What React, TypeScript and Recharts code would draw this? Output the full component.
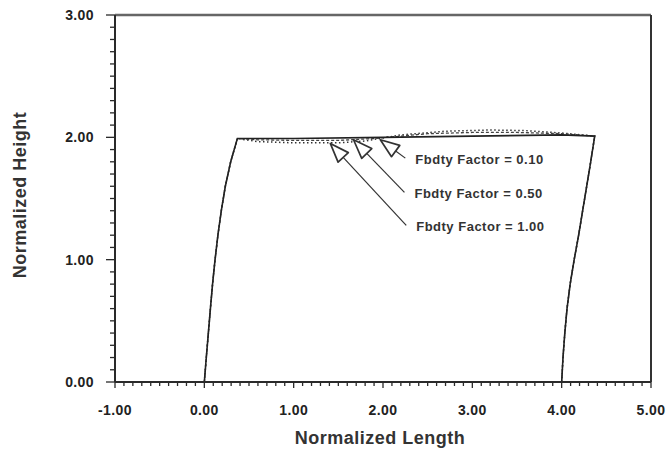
import React from "react";
import { LineChart, Line, XAxis, YAxis, ReferenceLine } from "recharts";

// Deformed outline of the block for three Fbdty factors (x = normalized length, y = normalized height)
// Left edge (bottom to top), then the top edge, then the right edge (top to bottom).
const leftEdge = [
  { x: 0.0, y: 0.0 }, { x: 0.022, y: 0.2 }, { x: 0.045, y: 0.4 }, { x: 0.068, y: 0.6 },
  { x: 0.092, y: 0.8 }, { x: 0.12, y: 1.0 }, { x: 0.152, y: 1.2 }, { x: 0.19, y: 1.4 },
  { x: 0.235, y: 1.6 }, { x: 0.295, y: 1.8 }, { x: 0.37, y: 1.99 },
];
const rightEdge = [
  { x: 4.37, y: 2.01 }, { x: 4.325, y: 1.8 }, { x: 4.28, y: 1.6 }, { x: 4.235, y: 1.4 },
  { x: 4.19, y: 1.2 }, { x: 4.14, y: 1.0 }, { x: 4.095, y: 0.8 }, { x: 4.06, y: 0.6 },
  { x: 4.035, y: 0.4 }, { x: 4.015, y: 0.2 }, { x: 4.0, y: 0.0 },
];
const top010 = [
  { x: 1.0, y: 1.99 }, { x: 2.0, y: 2.0 }, { x: 3.0, y: 2.01 }, { x: 4.0, y: 2.02 },
];
const top050 = [
  { x: 0.6, y: 1.98 }, { x: 1.0, y: 1.975 }, { x: 1.5, y: 1.975 }, { x: 1.9, y: 1.99 },
  { x: 2.5, y: 2.03 }, { x: 3.0, y: 2.04 }, { x: 3.5, y: 2.04 }, { x: 4.0, y: 2.03 },
];
const top100 = [
  { x: 0.6, y: 1.965 }, { x: 1.0, y: 1.955 }, { x: 1.5, y: 1.955 }, { x: 1.8, y: 1.97 },
  { x: 2.2, y: 2.02 }, { x: 2.7, y: 2.05 }, { x: 3.2, y: 2.06 }, { x: 3.6, y: 2.055 },
  { x: 4.0, y: 2.035 },
];
const factor010 = [...leftEdge, ...top010, ...rightEdge];
const factor050 = [...leftEdge, ...top050, ...rightEdge];
const factor100 = [...leftEdge, ...top100, ...rightEdge];

// Callouts: arrow tip on the top edge, tail at the label
const callouts = [
  { label: "Fbdty Factor = 0.10", tip: { x: 1.97, y: 1.98 }, tail: { x: 2.25, y: 1.83 } },
  { label: "Fbdty Factor = 0.50", tip: { x: 1.67, y: 1.98 }, tail: { x: 2.24, y: 1.55 } },
  { label: "Fbdty Factor = 1.00", tip: { x: 1.41, y: 1.95 }, tail: { x: 2.26, y: 1.28 } },
];

const xMajorTicks = [-1, 0, 1, 2, 3, 4, 5];
const yMajorTicks = [0, 1, 2, 3];

const subdivide = (majors: number[], parts: number) => {
  const out: number[] = [];
  for (let i = 0; i < majors.length - 1; i++) {
    for (let k = 0; k < parts; k++) {
      out.push(+(majors[i] + ((majors[i + 1] - majors[i]) * k) / parts).toFixed(3));
    }
  }
  out.push(majors[majors.length - 1]);
  return out;
};
const xTicks = subdivide(xMajorTicks, 10);
const yTicks = subdivide(yMajorTicks, 10);

const FONT = "'Liberation Sans', Arial, Helvetica, sans-serif";
const AXIS = "#2a2a2a";
const isMajor = (v: number) => Math.abs(v - Math.round(v)) < 1e-6;

const XTick = (props: any) => {
  const { x, y, payload } = props;
  const v = payload.value;
  const major = isMajor(v);
  return (
    <g>
      <line x1={x} x2={x} y1={y} y2={y + (major ? 6 : 4)} stroke={AXIS} strokeWidth={1.3} />
      {major && (
        <text x={x} y={y + 33} textAnchor="middle" fontFamily={FONT} fontWeight="bold"
          fontSize={14} letterSpacing={0.4} fill="#222">
          {v.toFixed(2)}
        </text>
      )}
    </g>
  );
};

const YTick = (props: any) => {
  const { x, y, payload } = props;
  const v = payload.value;
  const major = isMajor(v);
  return (
    <g>
      <line x1={x - (major ? 9 : 5)} x2={x} y1={y} y2={y} stroke={AXIS} strokeWidth={1.3} />
      {major && (
        <text x={x - 21} y={y + 5} textAnchor="end" fontFamily={FONT} fontWeight="bold"
          fontSize={14} letterSpacing={0.4} fill="#222">
          {v.toFixed(2)}
        </text>
      )}
    </g>
  );
};

const makeArrow = (label: string) => (p: any) => {
  const { x1, y1, x2, y2 } = p;
  const dx = x2 - x1;
  const dy = y2 - y1;
  const len = Math.hypot(dx, dy) || 1;
  const ux = dx / len;
  const uy = dy / len;
  const px = -uy;
  const py = ux;
  const headLen = 19;
  const half = 7;
  const bx = x1 + ux * headLen;
  const by = y1 + uy * headLen;
  const pts = `${x1},${y1} ${bx + px * half},${by + py * half} ${bx - px * half},${by - py * half}`;
  return (
    <g>
      <line x1={bx} y1={by} x2={x2} y2={y2} stroke="#333" strokeWidth={1.2} />
      <polygon points={pts} fill="#fff" stroke="#333" strokeWidth={1.7} strokeLinejoin="round" />
      <text x={x2 + 10} y={y2 + 6} fontFamily={FONT} fontWeight="bold" fontSize={13}
        letterSpacing={0.5} fill="#333">
        {label}
      </text>
    </g>
  );
};

export default function App() {
  return (
    <div style={{ position: "absolute", left: 0, top: 0, background: "#fff" }}>
      <LineChart width={671} height={466} margin={{ top: 15, right: 20, left: 0, bottom: 0 }}>
        <XAxis
          type="number"
          dataKey="x"
          domain={[-1, 5]}
          ticks={xTicks}
          interval={0}
          height={84}
          tickSize={0}
          tickMargin={0}
          tickLine={false}
          tick={<XTick />}
          axisLine={{ stroke: AXIS, strokeWidth: 2 }}
          allowDataOverflow
          label={{
            content: () => (
              <text x={380} y={444} textAnchor="middle" fontFamily={FONT} fontWeight="bold"
                fontSize={18} letterSpacing={0.5} fill="#333">
                Normalized Length
              </text>
            ),
          }}
        />
        <YAxis
          type="number"
          dataKey="y"
          domain={[0, 3]}
          ticks={yTicks}
          interval={0}
          width={115}
          tickSize={0}
          tickMargin={0}
          tickLine={false}
          tick={<YTick />}
          axisLine={{ stroke: AXIS, strokeWidth: 2 }}
          allowDataOverflow
          label={{
            content: () => (
              <text x={26} y={195} transform="rotate(-90 26 195)" textAnchor="middle"
                fontFamily={FONT} fontWeight="bold" fontSize={18} letterSpacing={0.5} fill="#333">
                Normalized Height
              </text>
            ),
          }}
        />
        <ReferenceLine y={3} stroke="#666" strokeWidth={2.5} ifOverflow="extendDomain" />
        <ReferenceLine x={5} stroke="#333" strokeWidth={2} ifOverflow="extendDomain" />
        <Line data={factor100} dataKey="y" stroke="#333" strokeWidth={1.5} strokeDasharray="1.5 2.5"
          dot={false} isAnimationActive={false} />
        <Line data={factor050} dataKey="y" stroke="#444" strokeWidth={1.3} strokeDasharray="3 2"
          dot={false} isAnimationActive={false} />
        <Line data={factor010} dataKey="y" stroke="#222" strokeWidth={1.6}
          dot={false} isAnimationActive={false} />
        {callouts.map((c) => (
          <ReferenceLine key={c.label} segment={[c.tip, c.tail]} shape={makeArrow(c.label)} />
        ))}
      </LineChart>
    </div>
  );
}
